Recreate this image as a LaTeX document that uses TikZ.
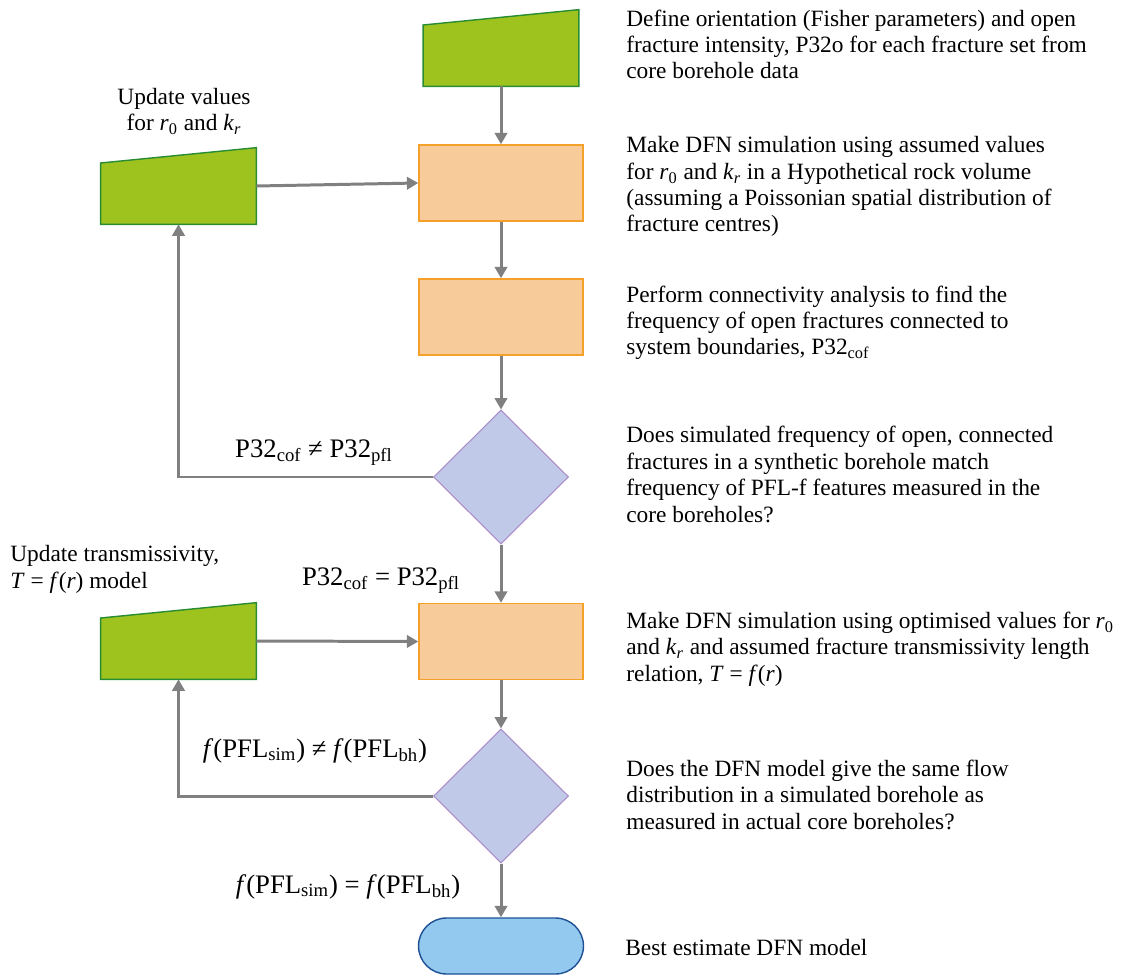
\documentclass[tikz,border=0pt]{standalone}
\usepackage{fontspec}
\setmainfont{Liberation Serif}
\usetikzlibrary{arrows.meta,calc,shapes.geometric}
\definecolor{inputgreen}{RGB}{158,195,31}
\definecolor{inputedge}{RGB}{40,140,50}
\definecolor{procfill}{RGB}{248,203,155}
\definecolor{procedge}{RGB}{245,160,40}
\definecolor{decfill}{RGB}{192,201,232}
\definecolor{decedge}{RGB}{170,140,200}
\definecolor{endfill}{RGB}{147,201,238}
\definecolor{endedge}{RGB}{30,80,150}
\definecolor{arrowgray}{RGB}{128,128,128}
\tikzset{
    box/.style={draw=procedge, fill=procfill, line width=0.8pt,
                minimum width=3.28cm, minimum height=1.52cm, inner sep=0pt},
    inputbox/.style={rectangle, minimum width=3.1cm, minimum height=1.52cm,
                inner sep=0pt},
    inputfill/.style={draw=inputedge, fill=inputgreen, line width=0.8pt},
    choice/.style={diamond, draw=decedge, fill=decfill, line width=0.6pt,
                   aspect=1, minimum width=2.7cm, minimum height=2.68cm, inner sep=0pt},
    terminal/.style={draw=endedge, fill=endfill, line width=0.8pt,
                minimum width=3.3cm, minimum height=1.12cm, rounded corners=0.56cm},
    flow/.style={-{Triangle[length=6.5pt,width=7pt]}, draw=arrowgray, line width=1.7pt},
    note/.style={font=\fontsize{13.3}{15}\selectfont, align=left,
                 anchor=base west, inner sep=0pt},
    cond/.style={font=\fontsize{15.2}{17}\selectfont, anchor=base, inner sep=0pt},
}
\newcommand{\manualinput}[1]{
    \filldraw[inputfill] (#1.south west) -- (#1.south east) -- (#1.north east)
        -- ($(#1.north west)!0.2!(#1.south west)$) -- cycle;
}
\newcommand{\rnought}{\textit{r}\textsubscript{0}}
\newcommand{\kr}{\textit{k}\textsubscript{\textit{r}}}

\begin{document}
\begin{tikzpicture}[x=0.02cm,y=-0.02cm]
    \useasboundingbox (0,0) rectangle (1142,976);

    % flowchart column
    \node[inputbox] (define) at (501,48) {};
    \manualinput{define}
    \node[box] (sim1) at (501,183) {};
    \node[inputbox] (upd1) at (178.5,186) {};
    \manualinput{upd1}
    \node[box] (conn) at (501,317) {};
    \node[choice] (dec1) at (501,477) {};
    \node[box] (sim2) at (501,641.5) {};
    \node[inputbox] (upd2) at (178.5,641) {};
    \manualinput{upd2}
    \node[choice] (dec2) at (501,796) {};
    \node[terminal] (best) at (501,946) {};

    \draw[flow] (define.south) -- (sim1.north);
    \draw[flow] (upd1.east) -- (sim1.west);
    \draw[flow] (sim1.south) -- (conn.north);
    \draw[flow] (conn.south) -- (dec1.north);
    \draw[flow] (dec1.west) -| (upd1.south);
    \draw[flow] (dec1.south) -- (sim2.north);
    \draw[flow] (upd2.east) -- (sim2.west);
    \draw[flow] (sim2.south) -- (dec2.north);
    \draw[flow] (dec2.west) -| (upd2.south);
    \draw[flow] (dec2.south) -- (best.north);

    % branch labels
    \node[cond] (ne1) at (314,457) {P32\textsubscript{cof} ≠ P32\textsubscript{pfl}};
    \node[cond] (eq1) at (381,585) {P32\textsubscript{cof} = P32\textsubscript{pfl}};
    \node[cond] (ne2) at (315,757) {\textit{f}(PFL\textsubscript{sim}) ≠ \textit{f}(PFL\textsubscript{bh})};
    \node[cond] (eq2) at (348,893) {\textit{f}(PFL\textsubscript{sim}) = \textit{f}(PFL\textsubscript{bh})};

    % left notes (base = last line)
    \node[note, align=center, anchor=base] (updnote1) at (184,131)
        {Update values\\for \rnought{} and \kr};
    \node[note] (updnote2) at (10,588)
        {Update transmissivity,\\\textit{T} = \textit{f}(\textit{r}) model};

    % right notes (base = last line)
    \node[note] (txt1) at (626,79)
        {Define orientation (Fisher parameters) and open\\
         fracture intensity, P32o for each fracture set from\\
         core borehole data};
    \node[note] (txt2) at (626,232)
        {Make DFN simulation using assumed values\\
         for \rnought{} and \kr{} in a Hypothetical rock volume\\
         (assuming a Poissonian spatial distribution of\\
         fracture centres)};
    \node[note] (txt3) at (626,355)
        {Perform connectivity analysis to find the\\
         frequency of open fractures connected to\\
         system boundaries, P32\textsubscript{cof}};
    \node[note] (txt4) at (626,522)
        {Does simulated frequency of open, connected\\
         fractures in a synthetic borehole match\\
         frequency of PFL-f features measured in the\\
         core boreholes?};
    \node[note] (txt5) at (626,681)
        {Make DFN simulation using optimised values for \rnought\\
         and \kr{} and assumed fracture transmissivity length\\
         relation, \textit{T} = \textit{f}(\textit{r})};
    \node[note] (txt6) at (626,829)
        {Does the DFN model give the same flow\\
         distribution in a simulated borehole as\\
         measured in actual core boreholes?};
    \node[note] (txt7) at (625,955) {Best estimate DFN model};
\end{tikzpicture}
\end{document}
